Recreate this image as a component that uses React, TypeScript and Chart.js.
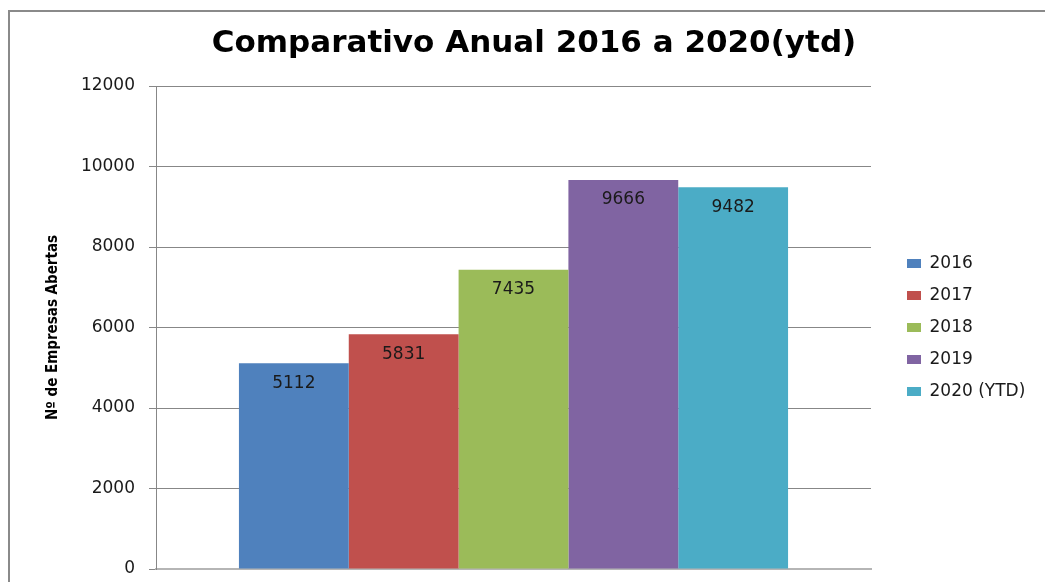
import React, { useEffect, useRef } from "react";
import { Chart, registerables } from "chart.js";

Chart.register(...registerables);

const categories: string[] = [""];
const seriesNames: string[] = ["2016", "2017", "2018", "2019", "2020 (YTD)"];
const seriesValues: number[] = [5112, 5831, 7435, 9666, 9482];
const seriesColors: string[] = ["#4F81BD", "#C0504D", "#9BBB59", "#8064A2", "#4BACC6"];
const yTicks: number[] = [0, 2000, 4000, 6000, 8000, 10000, 12000];
const titleText = "Comparativo Anual 2016 a 2020(ytd)";
const yTitleText = "Nº de Empresas Abertas";

const BASE_FONT = "'DejaVu Sans', 'Open Sans', sans-serif";
const LEGEND_SIZE = 17;
const LEGEND_BOX = 14;
const LEGEND_PAD = 15;
const Y_TITLE_SIZE = 15;

const frameBorder = {
  id: "frameBorder",
  beforeDraw(chart: any) {
    const ctx = chart.ctx;
    ctx.save();
    ctx.strokeStyle = "#8a8a8a";
    ctx.lineWidth = 2;
    ctx.strokeRect(9, 11, 1200, 700);
    ctx.restore();
  },
};

const valueLabels = {
  id: "valueLabels",
  afterDatasetsDraw(chart: any) {
    const ctx = chart.ctx;
    ctx.save();
    ctx.font = "17px " + BASE_FONT;
    ctx.fillStyle = "#1a1a1a";
    ctx.textAlign = "center";
    ctx.textBaseline = "middle";
    chart.data.datasets.forEach((ds: any, i: number) => {
      const meta = chart.getDatasetMeta(i);
      meta.data.forEach((bar: any, j: number) => {
        ctx.fillText(String(ds.data[j]), bar.x, bar.y + 20);
      });
    });
    ctx.restore();
  },
};

export default function App() {
  const ref = useRef<HTMLCanvasElement | null>(null);

  useEffect(() => {
    if (!ref.current) return;
    // measure the legend so that the plot area keeps its place
    const mctx = document.createElement("canvas").getContext("2d") as CanvasRenderingContext2D;
    mctx.font = "normal " + LEGEND_SIZE + "px " + BASE_FONT;
    let maxText = 0;
    seriesNames.forEach((n) => {
      maxText = Math.max(maxText, mctx.measureText(n).width);
    });
    const legendW = LEGEND_PAD + LEGEND_BOX + LEGEND_SIZE / 2 + maxText + 10;
    const padR = Math.max(0, 153 - legendW);
    const padL = 23 + padR;
    const yTitleLine = Y_TITLE_SIZE * 1.2;

    const chart = new Chart(ref.current, {
      type: "bar",
      data: {
        labels: categories,
        datasets: seriesNames.map((name, i) => ({
          label: name,
          data: [seriesValues[i]],
          backgroundColor: seriesColors[i],
          borderWidth: 0,
          categoryPercentage: 0.768,
          barPercentage: 1,
        })),
      },
      options: {
        animation: false,
        responsive: true,
        maintainAspectRatio: false,
        layout: { padding: { left: padL, right: padR, top: 0, bottom: 13 } },
        plugins: {
          tooltip: { enabled: false },
          title: {
            display: true,
            text: titleText,
            color: "#000000",
            font: { family: BASE_FONT, size: 31, weight: "bold", lineHeight: 1.2 },
            padding: { top: 25, bottom: 23.8 },
          },
          legend: {
            position: "right",
            fullSize: false,
            labels: {
              boxWidth: LEGEND_BOX,
              boxHeight: 9,
              padding: LEGEND_PAD,
              color: "#1a1a1a",
              font: { family: BASE_FONT, size: LEGEND_SIZE },
            },
          },
        },
        scales: {
          x: {
            grid: { display: false, drawTicks: false },
            ticks: { display: false },
            border: { display: true, color: "#b5b5b5", width: 2 },
            afterFit: (s: any) => {
              s.height = 0;
            },
          },
          y: {
            min: 0,
            max: 12000,
            afterBuildTicks: (s: any) => {
              s.ticks = yTicks.map((v) => ({ value: v }));
            },
            afterFit: (s: any) => {
              s.width = 156 - padL;
              s.paddingTop = 0;
              s.paddingBottom = 0;
            },
            grid: { color: "#878787", lineWidth: 1, tickLength: 7 },
            border: { display: true, color: "#878787", width: 1 },
            ticks: {
              padding: 14,
              color: "#1a1a1a",
              font: { family: BASE_FONT, size: 17 },
              callback: (v: any) => String(v),
            },
            title: {
              display: true,
              text: yTitleText,
              color: "#000000",
              padding: { top: Math.max(0, 53 - yTitleLine / 2 - padL), bottom: 0 },
              font: { family: "'DejaVu Sans Condensed', 'Liberation Sans Narrow', sans-serif", size: Y_TITLE_SIZE, weight: "bold" },
            },
          },
          y2: {
            position: "right",
            display: true,
            grid: { display: false, drawTicks: false },
            border: { display: false },
            ticks: { display: false },
            afterFit: (s: any) => {
              s.width = 21;
              s.paddingTop = 0;
              s.paddingBottom = 0;
            },
          },
        },
      },
      plugins: [frameBorder, valueLabels],
    } as any);
    return () => chart.destroy();
  }, []);

  return (
    <div style={{ position: "fixed", left: 0, top: 0, width: 1045, height: 582, background: "#ffffff" }}>
      <canvas ref={ref} />
    </div>
  );
}
